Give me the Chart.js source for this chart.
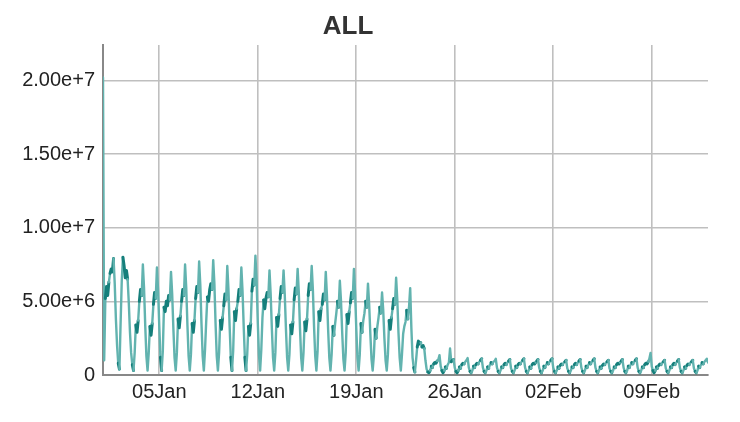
<!DOCTYPE html>
<html>
<head>
<meta charset="utf-8">
<script src="https://cdn.jsdelivr.net/npm/chart.js@4.4.1/dist/chart.umd.min.js"></script>
<style>
  html, body { margin: 0; padding: 0; background: #fff; }
  #wrap { position: relative; width: 740px; height: 422px; }
  #title {
    position: absolute; left: 0; top: 10px; width: 696px;
    text-align: center; color: #333;
    font: bold 26px "Liberation Sans", Arial, sans-serif;
  }
  #chart { position: absolute; left: 0; top: 0; }
</style>
</head>
<body>
<div id="wrap">
  <canvas id="chart" width="740" height="422"></canvas>
  <div id="title">ALL</div>
</div>
<script>
// series: 2-hourly samples from 01 Jan 00:00, values in millions
// one row per day: 00 02 04 06 08 10 12 14 16 18 20 22 h
const stepHours = 2;
const allMillions = [
  20.2, 1.0, 5.2, 6.0, 5.4, 6.3, 6.9, 7.2, 7.0, 7.9, 6.2, 3.8,   // 01 Jan
  2.0, 0.8, 0.4, 3.5, 6.4, 8.0, 7.4, 6.6, 7.1, 6.5, 4.9, 2.9,    // 02 Jan
  1.5, 0.7, 0.3, 1.5, 3.4, 2.9, 3.7, 5.0, 5.8, 5.4, 7.5, 5.9,
  3.4, 1.3, 0.3, 1.5, 3.3, 2.7, 3.5, 4.8, 5.6, 5.2, 7.3, 5.7,
  3.3, 1.2, 0.3, 1.6, 4.6, 4.3, 5.0, 4.7, 5.4, 5.1, 7.0, 5.5,    // 05 Jan
  3.2, 1.2, 0.3, 1.5, 3.8, 3.2, 4.0, 5.0, 5.8, 5.4, 7.5, 5.9,
  3.4, 1.3, 0.3, 1.4, 3.5, 2.9, 3.7, 5.2, 6.0, 5.6, 7.7, 6.1,
  3.5, 1.3, 0.3, 1.7, 3.6, 5.3, 5.0, 5.8, 6.2, 5.8, 7.8, 6.2,
  3.5, 1.3, 0.3, 1.5, 3.7, 3.1, 3.9, 4.7, 5.5, 5.1, 7.4, 5.8,
  3.3, 1.2, 0.3, 1.6, 4.3, 3.7, 4.5, 5.0, 5.8, 5.4, 7.3, 5.7,    // 10 Jan
  3.3, 1.2, 0.3, 1.4, 3.3, 2.7, 3.5, 5.7, 6.5, 6.1, 8.1, 6.4,
  3.6, 1.4, 0.3, 1.7, 3.9, 5.1, 4.5, 5.2, 5.6, 5.3, 7.1, 5.5,    // 12 Jan
  3.2, 1.2, 0.3, 1.5, 3.9, 3.3, 4.1, 5.2, 6.0, 5.6, 7.1, 5.5,
  3.2, 1.2, 0.3, 1.4, 3.4, 2.8, 3.6, 5.1, 5.9, 5.5, 7.2, 5.6,
  3.2, 1.2, 0.3, 1.5, 3.6, 3.0, 3.8, 5.4, 6.2, 5.8, 7.4, 5.8,    // 15 Jan
  3.3, 1.3, 0.3, 1.6, 4.3, 3.7, 4.5, 4.8, 5.5, 5.1, 7.0, 5.4,
  3.1, 1.2, 0.3, 1.4, 3.3, 2.7, 3.5, 4.2, 5.0, 4.6, 6.4, 5.0,
  2.9, 1.1, 0.3, 1.5, 4.1, 3.5, 4.3, 4.9, 5.6, 5.2, 7.2, 5.6,
  3.2, 1.2, 0.3, 1.4, 3.5, 2.9, 3.7, 4.2, 5.0, 4.6, 6.2, 4.8,    // 19 Jan
  2.8, 1.1, 0.3, 1.3, 3.1, 2.5, 3.3, 3.9, 4.6, 4.2, 5.6, 4.4,
  2.5, 1.0, 0.3, 1.4, 3.7, 3.1, 3.9, 4.5, 5.2, 4.8, 6.6, 5.1,
  2.9, 1.2, 0.3, 1.4, 2.8, 3.3, 3.6, 4.4, 3.8, 4.6, 5.9, 3.2,
  1.2, 0.5, 0.2, 1.0, 1.9, 2.3, 2.1, 2.2, 1.9, 2.0, 1.8, 1.0,    // 23 Jan
  0.4, 0.2, 0.15, 0.3, 0.6, 0.5, 0.75, 0.85, 0.8, 0.95, 1.05, 1.35,
  0.6, 0.3, 0.15, 0.3, 0.55, 0.45, 0.7, 0.85, 1.8, 0.9, 1.0, 1.05,
  0.5, 0.25, 0.15, 0.3, 0.55, 0.45, 0.7, 0.8, 0.75, 0.9, 1.0, 1.15, // 26 Jan
  0.5, 0.25, 0.15, 0.3, 0.6, 0.5, 0.7, 0.8, 0.75, 0.9, 1.0, 1.1,
  0.5, 0.25, 0.15, 0.3, 0.55, 0.45, 0.7, 0.85, 0.75, 0.9, 0.95, 1.1,
  0.5, 0.25, 0.15, 0.3, 0.55, 0.5, 0.7, 0.8, 0.7, 0.85, 0.95, 1.05,
  0.45, 0.25, 0.15, 0.3, 0.6, 0.5, 0.7, 0.8, 0.75, 0.9, 1.0, 1.1,
  0.5, 0.25, 0.15, 0.3, 0.55, 0.45, 0.7, 0.8, 0.75, 0.85, 0.95, 1.05,
  0.5, 0.25, 0.15, 0.3, 0.6, 0.5, 0.7, 0.85, 0.75, 0.9, 1.0, 1.1,
  0.5, 0.25, 0.15, 0.3, 0.55, 0.45, 0.65, 0.75, 0.7, 0.85, 0.9, 1.0, // 02 Feb
  0.45, 0.25, 0.15, 0.3, 0.55, 0.5, 0.7, 0.8, 0.7, 0.85, 0.95, 1.05,
  0.5, 0.25, 0.15, 0.3, 0.6, 0.5, 0.7, 0.85, 0.75, 0.9, 1.0, 1.1,
  0.5, 0.25, 0.15, 0.3, 0.55, 0.45, 0.65, 0.75, 0.7, 0.85, 0.9, 1.0,
  0.45, 0.25, 0.15, 0.3, 0.55, 0.5, 0.7, 0.8, 0.75, 0.85, 0.95, 1.05,
  0.5, 0.25, 0.15, 0.3, 0.6, 0.5, 0.7, 0.85, 0.75, 0.9, 1.0, 1.1,
  0.5, 0.25, 0.15, 0.3, 0.55, 0.5, 0.7, 0.8, 0.75, 0.9, 1.1, 1.5,   // 08 Feb
  0.6, 0.3, 0.15, 0.3, 0.55, 0.45, 0.65, 0.75, 0.7, 0.85, 0.9, 1.0,
  0.45, 0.25, 0.15, 0.3, 0.55, 0.5, 0.7, 0.8, 0.7, 0.85, 0.95, 1.05,
  0.5, 0.25, 0.15, 0.3, 0.55, 0.45, 0.65, 0.75, 0.7, 0.85, 0.9, 1.0,
  0.45, 0.25, 0.15, 0.3, 0.6, 0.5, 0.7, 0.85, 0.75, 0.9, 1.0, 1.1,  // 12 Feb
  0.85
];

// x axis in days since 01 Jan
const xTickDays = [4, 11, 18, 25, 32, 39];
const xTickLabels = ['05Jan', '12Jan', '19Jan', '26Jan', '02Feb', '09Feb'];
const yTickValues = [0, 5e6, 1e7, 1.5e7, 2e7];
const yTickLabels = ['0', '5.00e+6', '1.00e+7', '1.50e+7', '2.00e+7'];

const lightTeal = '#62b3af';
const darkTeal = '#157f7b';
const gridColor = '#bfbfbf';
const axisColor = '#888888';
const tickFont = { family: '"Liberation Sans", Arial, sans-serif', size: 20 };

const points = allMillions.map((v, i) => ({ x: i * stepHours / 24, y: v * 1e6 }));

// darker where the trace jitters back and forth in small steps
// (small = relative to the day's swing around that point)
function isJitter(ctx) {
  const d = allMillions;
  const i = ctx.p0DataIndex, j = ctx.p1DataIndex;
  const dy = d[j] - d[i];
  const prev = i > 0 ? d[i] - d[i - 1] : 0;
  const next = j < d.length - 1 ? d[j + 1] - d[j] : 0;
  const near = d.slice(Math.max(0, i - 6), j + 7);
  const swing = Math.max(...near) - Math.min(...near);
  return (prev * dy < 0 || next * dy < 0) && Math.abs(dy) < 0.13 * swing;
}

new Chart(document.getElementById('chart'), {
  type: 'line',
  data: {
    datasets: [{
      data: points,
      borderColor: lightTeal,
      borderWidth: 2.4,
      borderJoinStyle: 'round',
      borderCapStyle: 'round',
      pointRadius: 0,
      tension: 0,
      segment: {
        borderColor: ctx => isJitter(ctx) ? darkTeal : lightTeal,
        borderWidth: ctx => isJitter(ctx) ? 3 : 2.4
      }
    }]
  },
  options: {
    responsive: false,
    animation: false,
    parsing: false,
    layout: { padding: { top: 45, right: 32, left: 0, bottom: 0 } },
    plugins: { legend: { display: false }, tooltip: { enabled: false }, title: { display: false } },
    scales: {
      x: {
        type: 'linear',
        min: 0,
        max: 43,
        afterBuildTicks: axis => { axis.ticks = xTickDays.map(v => ({ value: v })); },
        afterFit: axis => { axis.height = 47; },
        ticks: {
          autoSkip: false,
          maxRotation: 0,
          padding: 5,
          color: '#222',
          font: tickFont,
          callback: v => xTickLabels[xTickDays.indexOf(v)]
        },
        grid: { color: gridColor, lineWidth: 1.6, drawTicks: false },
        border: { color: axisColor, width: 2 }
      },
      y: {
        min: 0,
        max: 2.24e7,
        afterBuildTicks: axis => { axis.ticks = yTickValues.map(v => ({ value: v })); },
        afterFit: axis => { axis.width = 103; },
        ticks: {
          padding: 8,
          color: '#222',
          font: tickFont,
          callback: v => yTickLabels[yTickValues.indexOf(v)]
        },
        grid: { color: gridColor, lineWidth: 1.6, drawTicks: false },
        border: { color: axisColor, width: 2 }
      }
    }
  }
});
</script>
</body>
</html>
